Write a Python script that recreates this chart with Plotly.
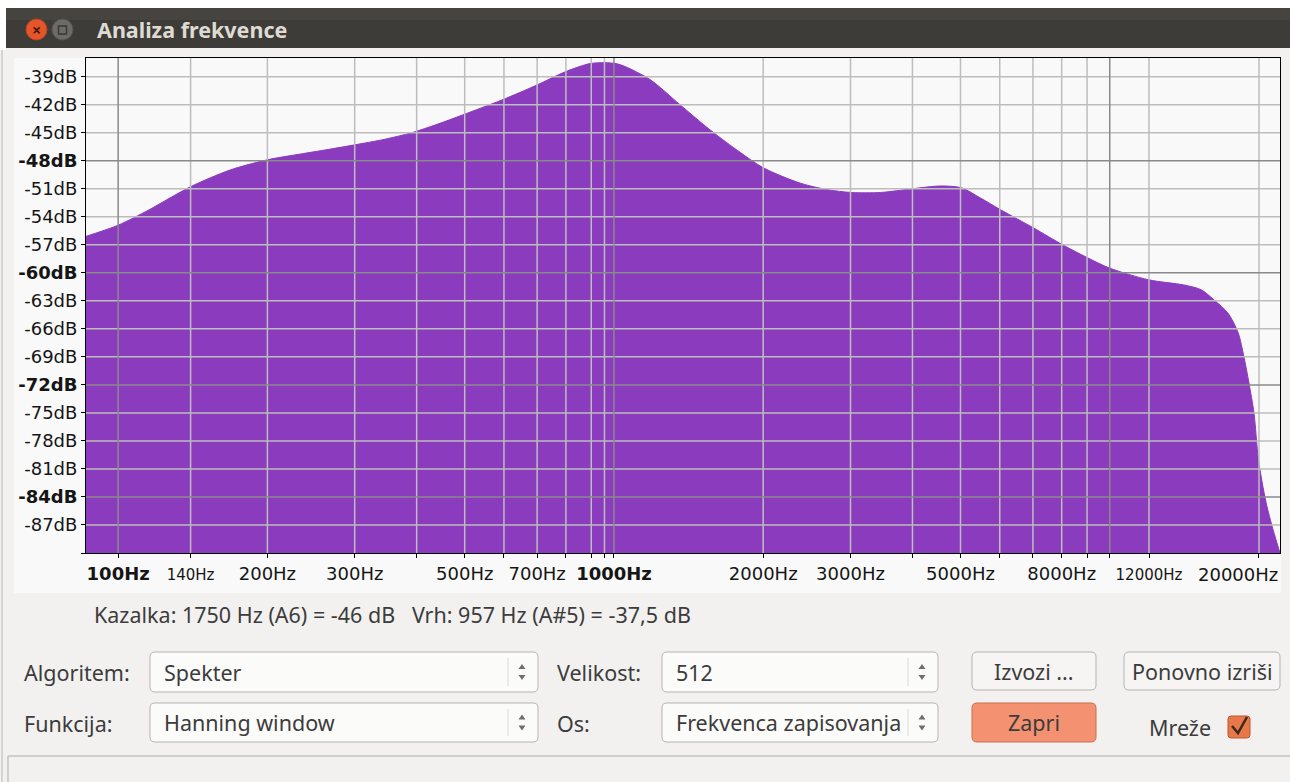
import plotly.graph_objects as go
import math

# ---------------- data ----------------
FREQ_HZ = [86.13, 100, 115, 128, 141, 168, 200, 232, 265, 300, 345, 391, 440, 495, 594, 699,
           796, 894, 957, 1010, 1052, 1182, 1359, 1563, 1797, 2000, 2376, 2700, 3012, 3446,
           4000, 4557, 5023, 5489, 6024, 7023, 8035, 9028, 10000, 11990, 14110, 15270,
           16230, 17310, 18150, 18650, 19090, 19540, 19950, 20670, 21350, 22050]
LEVEL_DB = [-56.1, -54.9, -53.3, -51.9, -50.7, -49.0, -47.9, -47.3, -46.8, -46.3, -45.7,
            -45.0, -44.1, -43.1, -41.5, -39.9, -38.5, -37.6, -37.5, -37.6, -37.9, -39.3,
            -42.0, -44.7, -47.1, -48.75, -50.4, -51.1, -51.4, -51.4, -51.0, -50.7, -50.9,
            -52.0, -53.25, -55.2, -57.0, -58.4, -59.5, -60.75, -61.3, -61.8, -62.9, -64.3,
            -66.4, -69.0, -71.8, -75.0, -80.0, -84.6, -87.5, -90.0]

X_TICK_VALS = [100, 140, 200, 300, 500, 700, 1000, 2000, 3000, 5000, 8000, 12000, 20000]
X_TICK_TEXT = ["<b>100Hz</b>", "<span style='font-size:15px'>140Hz</span>", "200Hz", "300Hz",
               "500Hz", "700Hz", "<b>1000Hz</b>", "2000Hz", "3000Hz", "5000Hz", "8000Hz",
               "<span style='font-size:15px'>12000Hz</span>", ""]
LAST_TICK_LABEL = "20000Hz"   # drawn flush with the right edge of the axis, as Audacity does
X_GRID_MINOR = [140, 200, 300, 400, 500, 600, 700, 800, 900, 957, 2000, 3000, 4000, 5000,
                6000, 7000, 8000, 9000, 12000, 20000]
X_GRID_MAJOR = [100, 1000, 10000]

Y_TICK_VALS = [-39, -42, -45, -48, -51, -54, -57, -60, -63, -66, -69, -72, -75, -78, -81, -84, -87, -90]
Y_MAJOR = [-48, -60, -72, -84]
Y_MINOR = [v for v in Y_TICK_VALS if v not in Y_MAJOR and v != -90]

F_MIN, F_MAX = 86.13, 22050
DB_MIN, DB_MAX = -90, -37

STATUS_TEXT = "Kazalka: 1750 Hz (A6) = -46 dB   Vrh: 957 Hz (A#5) = -37,5 dB"

# ---------------- layout helpers (pixel -> paper) ----------------
WID, HEI = 1290, 782
L, R, T, B = 86, 1280, 58, 553
PW, PH = R - L, B - T


def PX(x):
    return (x - L) / PW


def PY(y):
    return (B - y) / PH


def rrect_path(x0, y0, x1, y1, r):
    def p(x, y):
        return f"{PX(x):.5f},{PY(y):.5f}"
    return (f"M {p(x0 + r, y0)} L {p(x1 - r, y0)} Q {p(x1, y0)} {p(x1, y0 + r)} "
            f"L {p(x1, y1 - r)} Q {p(x1, y1)} {p(x1 - r, y1)} L {p(x0 + r, y1)} "
            f"Q {p(x0, y1)} {p(x0, y1 - r)} L {p(x0, y0 + r)} Q {p(x0, y0)} {p(x0 + r, y0)} Z")


def poly_path(points):
    return "M " + " L ".join(f"{PX(x):.5f},{PY(y):.5f}" for x, y in points) + " Z"


shapes = []
annotations = []

UI_FONT = "Noto Sans"
TXT = "#3c3c3c"
UI_SIZE = 21.5
TICK_FONT = dict(family="DejaVu Sans", size=18, color="#151515")


def rect(x0, y0, x1, y1, fill, line=None, lw=0, layer="below"):
    shapes.append(dict(type="rect", xref="paper", yref="paper", x0=PX(x0), x1=PX(x1),
                       y0=PY(y1), y1=PY(y0), fillcolor=fill,
                       line=dict(color=line or fill, width=lw), layer=layer))


def rrect(x0, y0, x1, y1, r, fill, line, lw=1):
    shapes.append(dict(type="path", xref="paper", yref="paper", path=rrect_path(x0, y0, x1, y1, r),
                       fillcolor=fill, line=dict(color=line, width=lw), layer="above"))


def hline(x0, x1, y, color, w=1):
    shapes.append(dict(type="line", xref="paper", yref="paper", x0=PX(x0), x1=PX(x1), y0=PY(y), y1=PY(y),
                       line=dict(color=color, width=w), layer="above"))


def vline(x, y0, y1, color, w=1):
    shapes.append(dict(type="line", xref="paper", yref="paper", x0=PX(x), x1=PX(x), y0=PY(y0), y1=PY(y1),
                       line=dict(color=color, width=w), layer="above"))


def text(x, y, s, size=UI_SIZE, color=TXT, anchor="left", bold=False, family=UI_FONT):
    annotations.append(dict(xref="paper", yref="paper", x=PX(x), y=PY(y), text=(f"<b>{s}</b>" if bold else s),
                            showarrow=False, xanchor=anchor, yanchor="middle",
                            font=dict(family=family, size=size, color=color)))


# window chrome
rect(0, 0, WID, 8, "#ffffff")
rect(0, 0, 6, 50, "#ffffff")
rect(6, 8, WID, 48, "#3d3c38")
rect(6, 8, WID, 20, "#45443f")
rect(14, 58, 1281, 593, "#f9f9f9")
shapes.append(dict(type="circle", xref="paper", yref="paper", x0=PX(26), x1=PX(47), y0=PY(40), y1=PY(19),
                   fillcolor="#e5552a", line=dict(color="#b8441f", width=1), layer="above"))
shapes.append(dict(type="circle", xref="paper", yref="paper", x0=PX(52), x1=PX(73), y0=PY(40), y1=PY(19),
                   fillcolor="#6c6b66", line=dict(color="#55544f", width=1), layer="above"))
shapes.append(dict(type="rect", xref="paper", yref="paper", x0=PX(58.5), x1=PX(66.5), y0=PY(34), y1=PY(26),
                   fillcolor="rgba(0,0,0,0)", line=dict(color="#3a3935", width=1.5), layer="above"))
text(36.5, 30, "×", size=16, color="#4a1a08", anchor="center", bold=True)
text(95, 29, "Analiza frekvence", size=21.5, color="#dfdbd2", bold=True)

# last x tick label, right-aligned to the axis end
annotations.append(dict(xref="x", yref="paper", x=math.log10(F_MAX), y=PY(574), text=LAST_TICK_LABEL,
                        showarrow=False, xanchor="right", yanchor="middle", font=TICK_FONT))

# status text
text(92, 614, STATUS_TEXT)

# controls
text(22, 672, "Algoritem:")
text(22, 723, "Funkcija:")
text(555, 672, "Velikost:")
text(555, 723, "Os:")


def combo(x0, x1, y0, y1, label):
    rrect(x0, y0, x1, y1, 5, "#fbfbfa", "#b6b4b0", 1)
    vline(x1 - 30, y0 + 6, y1 - 6, "#dcdad6", 1)
    cx = x1 - 16
    cy = (y0 + y1) / 2
    shapes.append(dict(type="path", xref="paper", yref="paper",
                       path=poly_path([(cx - 3.5, cy - 3), (cx + 3.5, cy - 3), (cx, cy - 8)]),
                       fillcolor="#6e6e6e", line=dict(width=0), layer="above"))
    shapes.append(dict(type="path", xref="paper", yref="paper",
                       path=poly_path([(cx - 3.5, cy + 3), (cx + 3.5, cy + 3), (cx, cy + 8)]),
                       fillcolor="#6e6e6e", line=dict(width=0), layer="above"))
    text(x0 + 12, cy, label)


combo(150, 538, 652, 692, "Spekter")
combo(150, 538, 703, 742, "Hanning window")
combo(662, 938, 652, 692, "512")
combo(662, 938, 703, 742, "Frekvenca zapisovanja")

rrect(972, 652, 1096, 690, 5, "#f6f5f4", "#b6b4b0", 1)
text(1034, 671, "Izvozi ...", anchor="center")
rrect(1124, 652, 1280, 690, 5, "#f6f5f4", "#b6b4b0", 1)
text(1202, 671, "Ponovno izriši", anchor="center")
rrect(972, 703, 1096, 742, 5, "#f39170", "#c7714f", 1)
text(1034, 722, "Zapri", anchor="center")
text(1147, 727, "Mreže")
rrect(1228, 716, 1250, 738, 3, "#e8784a", "#b9582f", 1)
shapes.append(dict(type="path", xref="paper", yref="paper",
                   path=f"M {PX(1232):.5f},{PY(726):.5f} L {PX(1238):.5f},{PY(733):.5f} L {PX(1247):.5f},{PY(717):.5f}",
                   line=dict(color="#3a2a20", width=2.5), layer="above"))

# bottom status area
hline(8, WID, 756, "#c4c2be", 1.5)
vline(8, 756, 782, "#c4c2be", 1.5)
vline(2, 50, 782, "#b8b6b2", 1)

# ---------------- traces ----------------
fig = go.Figure()

fig.add_trace(go.Scatter(x=[F_MIN, F_MAX], y=[DB_MIN, DB_MIN], mode="lines",
                         line=dict(width=0), hoverinfo="skip", showlegend=False))
fig.add_trace(go.Scatter(x=FREQ_HZ, y=LEVEL_DB, mode="lines", fill="tonexty",
                         fillcolor="#8a3bbe", line=dict(color="#8a3bbe", width=1, shape="spline", smoothing=0.8),
                         showlegend=False, hovertemplate="%{x:.0f} Hz: %{y:.1f} dB<extra></extra>"))


def grid_xy_vertical(vals):
    xs, ys = [], []
    for v in vals:
        xs += [v, v, None]
        ys += [DB_MIN, DB_MAX, None]
    return xs, ys


def grid_xy_horizontal(vals):
    xs, ys = [], []
    for v in vals:
        xs += [F_MIN, F_MAX, None]
        ys += [v, v, None]
    return xs, ys


for vals_v, vals_h, col in [(X_GRID_MINOR, Y_MINOR, "#bdbdbd"), (X_GRID_MAJOR, Y_MAJOR, "#8a8a8a")]:
    gx, gy = grid_xy_vertical(vals_v)
    hx, hy = grid_xy_horizontal(vals_h)
    fig.add_trace(go.Scatter(x=gx + hx, y=gy + hy, mode="lines", line=dict(color=col, width=1.5),
                             hoverinfo="skip", showlegend=False, connectgaps=False))

Y_TICK_TEXT = [("" if v == -90 else (f"<b>{v}dB</b>" if v in Y_MAJOR else f"{v}dB")) for v in Y_TICK_VALS]

fig.update_layout(
    width=WID, height=HEI,
    margin=dict(l=L, r=WID - R, t=T, b=HEI - B),
    paper_bgcolor="#f2f1f0", plot_bgcolor="#ffffff",
    shapes=shapes, annotations=annotations,
    xaxis=dict(type="log", range=[math.log10(F_MIN), math.log10(F_MAX)],
               tickvals=X_TICK_VALS, ticktext=X_TICK_TEXT, ticks="outside", ticklen=4,
               tickcolor="#000000", showgrid=False, zeroline=False,
               showline=True, linecolor="#000000", linewidth=1, mirror=True,
               tickfont=TICK_FONT,
               minor=dict(tickvals=X_GRID_MINOR + X_GRID_MAJOR, ticks="outside", ticklen=4, tickcolor="#000000"),
               fixedrange=True),
    yaxis=dict(range=[DB_MIN, DB_MAX], tickvals=Y_TICK_VALS, ticktext=Y_TICK_TEXT,
               ticks="outside", ticklen=4, tickcolor="#000000", showgrid=False, zeroline=False,
               showline=True, linecolor="#000000", linewidth=1, mirror=True,
               tickfont=TICK_FONT, fixedrange=True),
)

fig.write_html("out.html", config={"displayModeBar": False},
               post_script="document.body.style.margin='0';document.body.style.overflow='hidden';")
